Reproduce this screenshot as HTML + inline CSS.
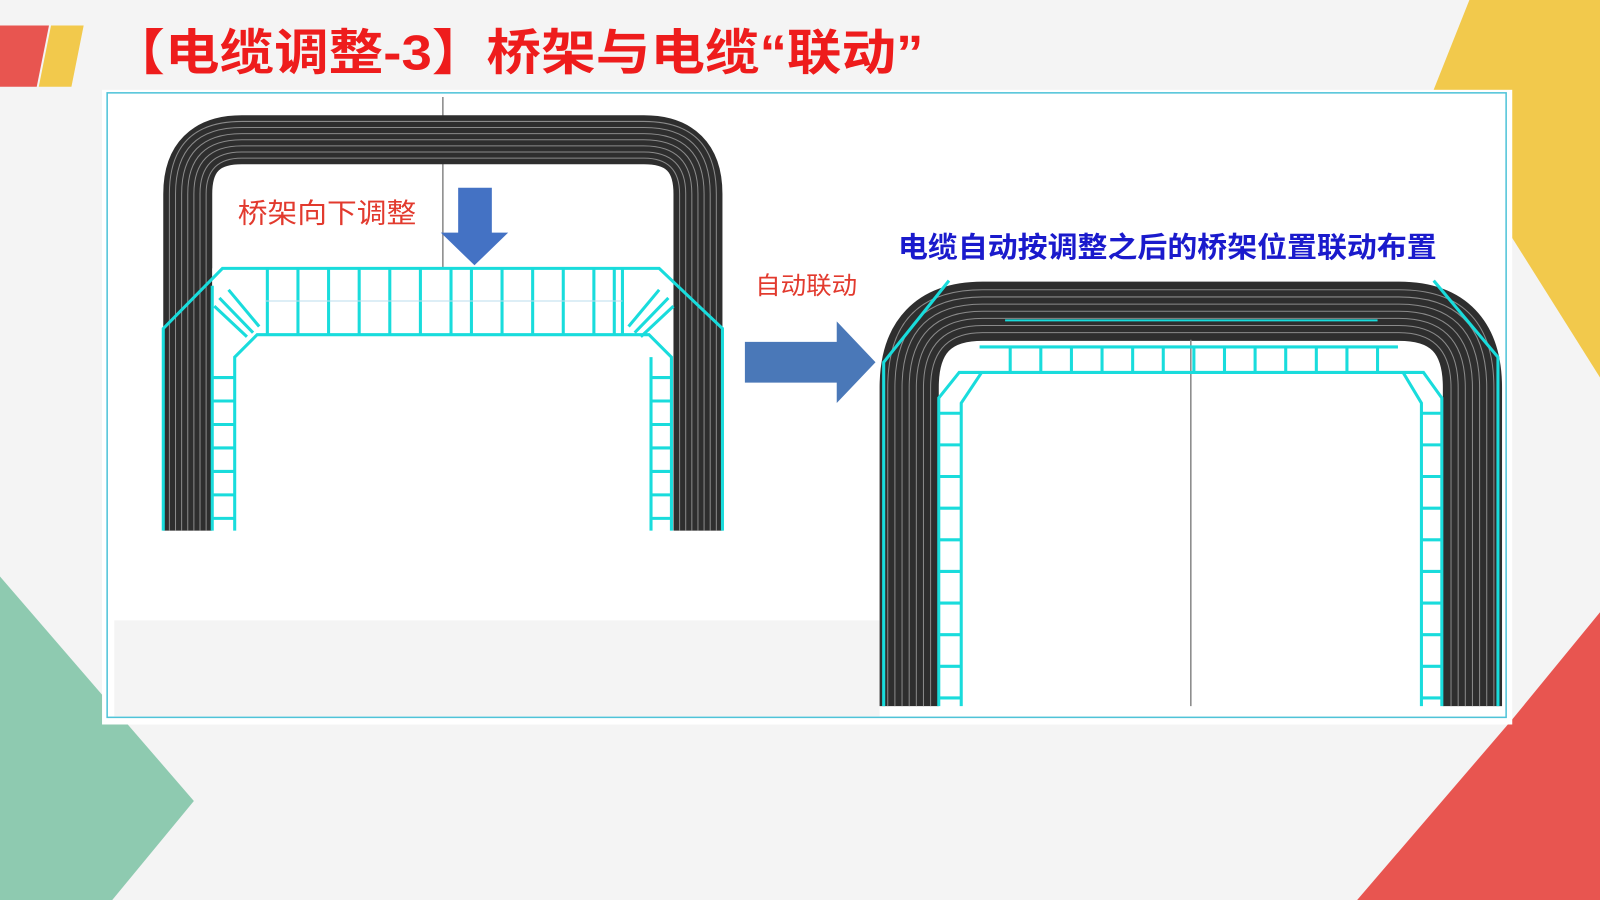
<!DOCTYPE html>
<html><head><meta charset="utf-8"><style>html,body{margin:0;padding:0;background:#f4f4f4}svg{display:block}</style></head>
<body>
<svg width="1600" height="900" viewBox="0 0 1568 882" preserveAspectRatio="none" xmlns="http://www.w3.org/2000/svg">
<rect width="1568" height="882" fill="#f4f4f4"/>
<polygon points="0,25 48,25 36,85 0,85" fill="#e85550"/>
<polygon points="50,25 82,25 70,85 38,85" fill="#f2c94c"/>
<polygon points="1440,0 1568,0 1568,370 1480,230 1405,88" fill="#f2c94c"/>
<polygon points="0,565 190,785 110,882 0,882" fill="#8ecab0"/>
<polygon points="1568,600 1568,882 1330,882 1482,705" fill="#e85550"/>
<text x="108" y="68" textLength="797" lengthAdjust="spacingAndGlyphs" font-family="Liberation Sans,Noto Sans CJK SC,sans-serif" font-weight="bold" font-size="48" fill="#ee1c1c">【电缆调整-3】桥架与电缆“联动”</text>
<rect x="100" y="88" width="1382" height="622" fill="#fff"/>
<rect x="105" y="91" width="1371" height="612" fill="none" stroke="#4fc3d8" stroke-width="1.5"/>
<rect x="112" y="608" width="750" height="94" fill="#f4f4f4"/>
<line x1="434" y1="95" x2="434" y2="520" stroke="#888" stroke-width="1.5"/>
<g fill="none">
<path d="M184,520 V190 Q184,137 237,137 H631 Q684,137 684,190 V520" stroke="#2e2e2e" stroke-width="48"/>
<g stroke="#8a8a8a" stroke-width="1">
<path d="M166,520 V190 Q166,119 237,119 H631 Q702,119 702,190 V520"/>
<path d="M172,520 V190 Q172,125 237,125 H631 Q696,125 696,190 V520"/>
<path d="M178,520 V190 Q178,131 237,131 H631 Q690,131 690,190 V520"/>
<path d="M184,520 V190 Q184,137 237,137 H631 Q684,137 684,190 V520"/>
<path d="M190,520 V190 Q190,143 237,143 H631 Q678,143 678,190 V520"/>
<path d="M196,520 V190 Q196,149 237,149 H631 Q672,149 672,190 V520"/>
<path d="M202,520 V190 Q202,155 237,155 H631 Q666,155 666,190 V520"/>
</g>
</g>
<rect x="208" y="263" width="450" height="258" fill="#fff"/>
<g stroke="#19dcdc" stroke-width="3" fill="none">
<polyline points="160,520 160,322 218,263 646,263 708,322 708,520"/>
<polyline points="230,520 230,350 252,328 636,328 658,350 658,520"/>
<line x1="208" y1="280" x2="208" y2="520"/>
<line x1="638" y1="350" x2="638" y2="520"/>
<path d="M262,263V328M292,263V328M322,263V328M352,263V328M382,263V328M412,263V328M442,263V328M462,263V328M492,263V328M522,263V328M552,263V328M582,263V328M602,263V328M610,263V328"/>
<path d="M208,370H230M208,393H230M208,416H230M208,439H230M208,462H230M208,485H230M208,508H230"/>
<path d="M638,370H658M638,393H658M638,416H658M638,439H658M638,462H658M638,485H658M638,508H658"/>
<path d="M210,300L242,330M215,292L248,326M224,284L254,320M660,300L628,330M655,292L622,326M646,284L616,320"/>
</g>
<line x1="260" y1="295" x2="610" y2="295" stroke="#bde" stroke-width="1"/>
<polygon points="449,184 482,184 482,228 498,228 465,260 432,228 449,228" fill="#4472c4"/>
<text x="233" y="218" textLength="175" lengthAdjust="spacingAndGlyphs" font-family="Liberation Sans,Noto Sans CJK SC,sans-serif" font-size="27" fill="#e23a2e">桥架向下调整</text>
<text x="740" y="288" textLength="100" lengthAdjust="spacingAndGlyphs" font-family="Liberation Sans,Noto Sans CJK SC,sans-serif" font-size="24" fill="#e23a2e">自动联动</text>
<polygon points="730,335 820,335 820,315 858,355 820,395 820,375 730,375" fill="#4a78b8"/>
<text x="880" y="252" textLength="528" lengthAdjust="spacingAndGlyphs" font-family="Liberation Sans,Noto Sans CJK SC,sans-serif" font-weight="bold" font-size="28" fill="#1a1acc">电缆自动按调整之后的桥架位置联动布置</text>
<rect x="862" y="270" width="610" height="422" fill="#fff"/>
<g fill="none">
<path d="M891,692 V380 Q891,305 963,305 H1371 Q1443,305 1443,380 V692" stroke="#2e2e2e" stroke-width="58"/>
<g stroke="#8a8a8a" stroke-width="1">
<path d="M870,692 V380 Q870,284 963,284 H1371 Q1464,284 1464,380 V692"/>
<path d="M877,692 V380 Q877,291 963,291 H1371 Q1457,291 1457,380 V692"/>
<path d="M884,692 V380 Q884,298 963,298 H1371 Q1450,298 1450,380 V692"/>
<path d="M891,692 V380 Q891,305 963,305 H1371 Q1443,305 1443,380 V692"/>
<path d="M898,692 V380 Q898,312 963,312 H1371 Q1436,312 1436,380 V692"/>
<path d="M905,692 V380 Q905,319 963,319 H1371 Q1429,319 1429,380 V692"/>
<path d="M912,692 V380 Q912,326 963,326 H1371 Q1422,326 1422,380 V692"/>
</g>
</g>
<line x1="1167" y1="333" x2="1167" y2="692" stroke="#888" stroke-width="1.5"/>
<g stroke="#19dcdc" stroke-width="3" fill="none">
<polyline points="920,692 920,390 940,365 1395,365 1413,390 1413,692"/>
<polyline points="942,692 942,395 962,365"/>
<polyline points="1393,692 1393,395 1375,365"/>
<line x1="960" y1="340" x2="1370" y2="340"/>
<line x1="985" y1="314" x2="1350" y2="314" stroke-width="2"/>
<path d="M990,340V365M1020,340V365M1050,340V365M1080,340V365M1110,340V365M1140,340V365M1170,340V365M1200,340V365M1230,340V365M1260,340V365M1290,340V365M1320,340V365M1350,340V365"/>
<path d="M920,405H942M920,436H942M920,467H942M920,498H942M920,529H942M920,560H942M920,591H942M920,622H942M920,653H942M920,684H942"/>
<path d="M1393,405H1413M1393,436H1413M1393,467H1413M1393,498H1413M1393,529H1413M1393,560H1413M1393,591H1413M1393,622H1413M1393,653H1413M1393,684H1413"/>
<path d="M866,692V355L930,275M1468,692V350L1405,275"/>
</g>
</svg>
</body></html>
